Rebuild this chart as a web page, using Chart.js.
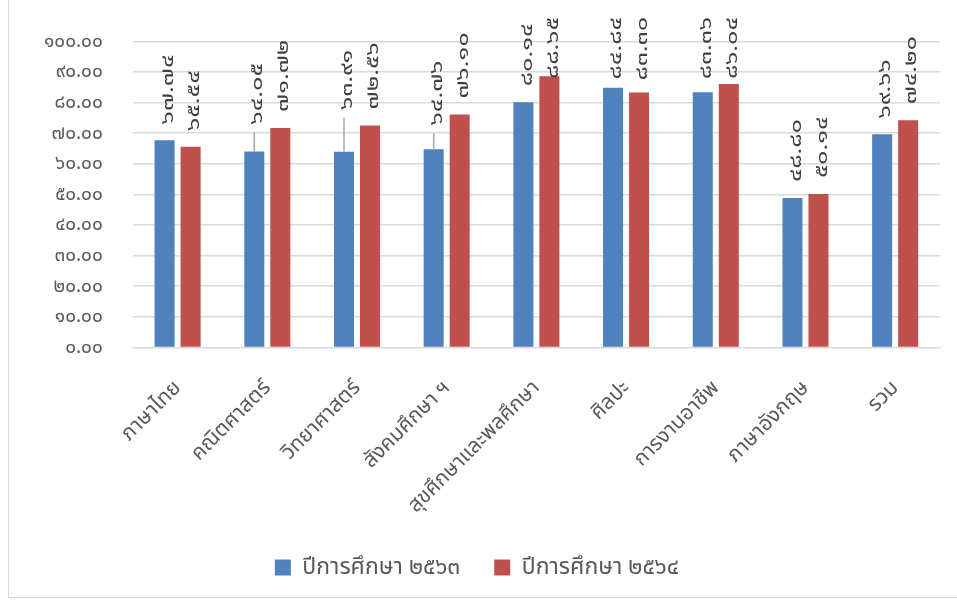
<!DOCTYPE html>
<html>
<head>
<meta charset="utf-8">
<script src="https://cdn.jsdelivr.net/npm/chart.js@4"></script>
<style>
  body { margin: 0; background: #fff; }
  #wrap { position: absolute; left: 0; top: 0; width: 957px; height: 601px; }
  #frame { position: absolute; left: 8px; top: -2px; width: 960px; height: 600px; border: 1px solid #d9d9d9; box-sizing: border-box; pointer-events: none; }
</style>
</head>
<body>
<div id="wrap">
  <canvas id="grafico" width="957" height="601"></canvas>
  <div id="frame"></div>
</div>
<script>
const categorias = ["ภาษาไทย", "คณิตศาสตร์", "วิทยาศาสตร์", "สังคมศึกษา ฯ", "สุขศึกษาและพลศึกษา", "ศิลปะ", "การงานอาชีพ", "ภาษาอังกฤษ", "รวม"];
const nomes = ["ปีการศึกษา ๒๕๖๓", "ปีการศึกษา ๒๕๖๔"];
const ano2563 = [67.74, 64.05, 63.91, 64.76, 80.14, 84.84, 83.36, 48.80, 69.66];
const ano2564 = [65.54, 71.72, 72.56, 76.10, 88.65, 83.30, 86.04, 50.14, 74.20];
const marcasY = [0, 10, 20, 30, 40, 50, 60, 70, 80, 90, 100];

const cores = ["#4f81bd", "#c0504d"];
const fonte = "'Noto Sans', 'Noto Sans Thai', Tahoma, sans-serif";

function thai(s) {
    return String(s).replace(/[0-9]/g, d => String.fromCharCode(0x0E50 + Number(d)));
}

// labels moved up by hand in the original, with a leader line
const rotuloExtra = { "0-1": 11, "0-2": 26, "0-3": 8 };

const rotulos = {
    id: "rotulos",
    afterDatasetsDraw(chart) {
        const ctx = chart.ctx;
        const esticar = 1.4;
        ctx.save();
        ctx.font = "18px " + fonte;
        ctx.fillStyle = "#404040";
        chart.data.datasets.forEach((ds, i) => {
            chart.getDatasetMeta(i).data.forEach((bar, j) => {
                const txt = thai(ds.data[j].toFixed(2));
                const w = ctx.measureText(txt).width * esticar;
                const extra = rotuloExtra[i + "-" + j] || 0;
                let base = bar.y - 16 - extra;
                if (base - w < 17) base = 17 + w;
                if (extra) {
                    ctx.strokeStyle = "#a6a6a6";
                    ctx.lineWidth = 1.5;
                    ctx.beginPath();
                    ctx.moveTo(bar.x, bar.y);
                    ctx.lineTo(bar.x, base + 8);
                    ctx.stroke();
                }
                ctx.save();
                ctx.translate(bar.x + 3, base);
                ctx.rotate(-Math.PI / 2);
                ctx.scale(esticar, 1);
                ctx.textAlign = "left";
                ctx.textBaseline = "middle";
                ctx.fillText(txt, 0, 0);
                ctx.restore();
            });
        });
        ctx.restore();
    }
};

let grafico = new Chart(document.getElementById("grafico"), {
    type: 'bar',
    data: {
        labels: categorias,
        datasets: [
            {
                label: nomes[0],
                data: ano2563,
                backgroundColor: cores[0]
            },
            {
                label: nomes[1],
                data: ano2564,
                backgroundColor: cores[1]
            }
        ]
    },
    options: {
        responsive: false,
        animation: false,
        categoryPercentage: 0.58,
        barPercentage: 0.77,
        layout: {
            padding: { left: 14, right: 17, top: 34, bottom: 12 }
        },
        plugins: {
            legend: {
                position: 'bottom',
                labels: {
                    boxWidth: 16,
                    boxHeight: 16,
                    padding: 34,
                    color: "#595959",
                    font: { family: fonte, size: 23 }
                }
            },
            tooltip: { enabled: false }
        },
        scales: {
            x: {
                grid: { display: false },
                border: { color: "#d9d9d9" },
                afterFit: axis => { axis.height -= 16; },
                ticks: {
                    autoSkip: false,
                    maxRotation: 45,
                    minRotation: 45,
                    color: "#595959",
                    padding: 20,
                    font: { family: fonte, size: 21 }
                }
            },
            y: {
                min: 0,
                max: 100,
                afterBuildTicks: axis => { axis.ticks = marcasY.map(v => ({ value: v })); },
                grid: { color: "#d9d9d9", lineWidth: 1.5, drawTicks: false },
                border: { display: false },
                ticks: {
                    padding: 30,
                    color: "#595959",
                    font: { family: fonte, size: 19 },
                    callback: v => thai(Number(v).toFixed(2))
                }
            }
        }
    },
    plugins: [rotulos]
});
</script>
</body>
</html>
